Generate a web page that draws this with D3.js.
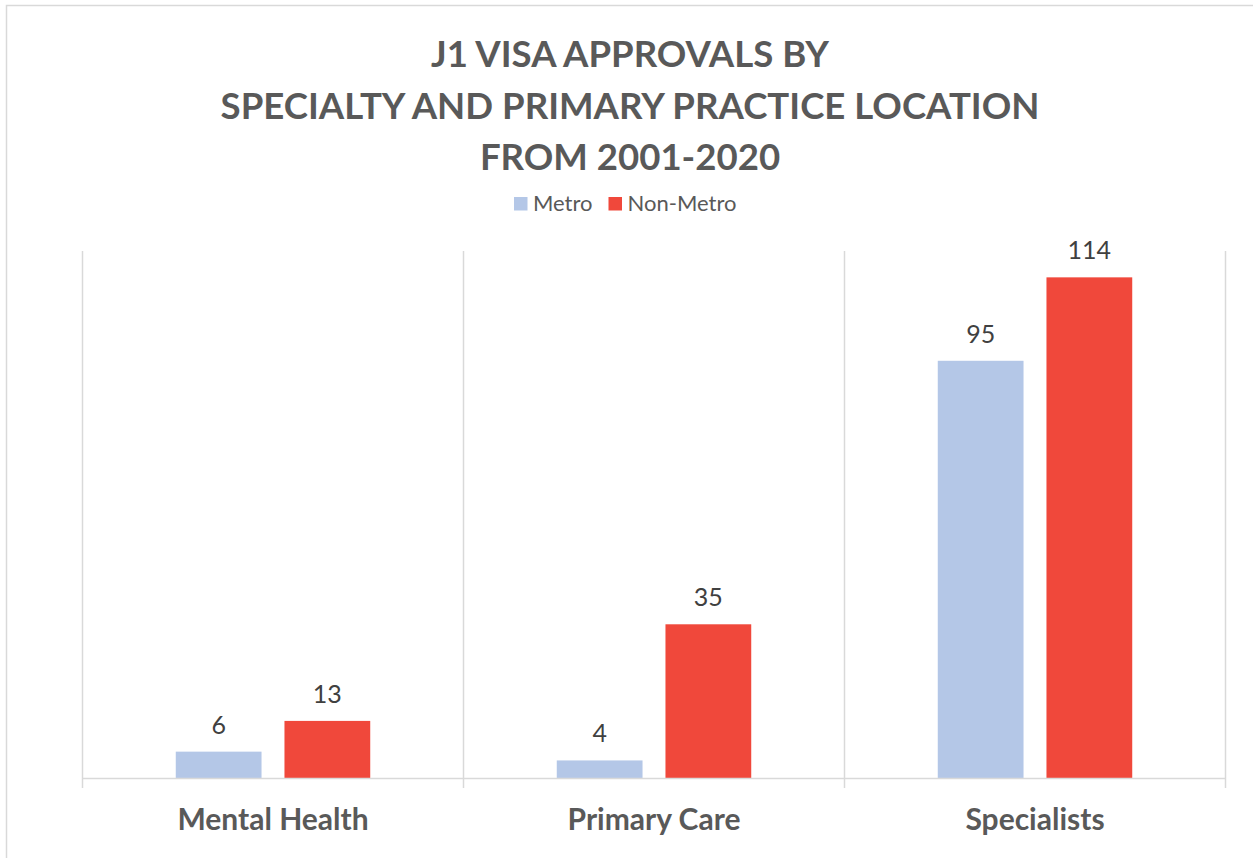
<!DOCTYPE html>
<html>
<head>
<meta charset="utf-8">
<script src="https://cdn.jsdelivr.net/npm/d3@7"></script>
<style>
  html, body { margin: 0; padding: 0; background: #fff; }
  svg { display: block; }
</style>
</head>
<body>
<svg id="chart" width="1253" height="858"></svg>
<script>
// J1 visa approvals, 2001-2020, by specialty and primary practice location
const categories = ["Mental Health", "Primary Care", "Specialists"];
const seriesNames = ["Metro", "Non-Metro"];
const metroValues = [6, 4, 95];
const nonMetroValues = [13, 35, 114];
const titleLines = ["J1 VISA APPROVALS BY", "SPECIALTY AND PRIMARY PRACTICE LOCATION", "FROM 2001-2020"];

const colors = { "Metro": "#B4C7E7", "Non-Metro": "#F0483B" };
const FONT = "Lato, 'Open Sans', 'Liberation Sans', sans-serif";

const rows = categories.map((c, i) => ({
  category: c,
  values: [
    { series: "Metro", value: metroValues[i] },
    { series: "Non-Metro", value: nonMetroValues[i] }
  ]
}));

const svg = d3.select("#chart");
const W = 1253, H = 858;

// outer chart frame
svg.append("rect")
  .attr("x", 6.5).attr("y", 5.5)
  .attr("width", W + 20).attr("height", H + 20)
  .attr("fill", "#fff")
  .attr("stroke", "#D9D9D9").attr("stroke-width", 1.5);

const plot = { left: 82.5, right: 1225.5, top: 251, bottom: 778 };

const x0 = d3.scaleBand()
  .domain(categories)
  .range([plot.left, plot.right])
  .paddingInner(0).paddingOuter(0);

const x1 = d3.scaleBand()
  .domain(seriesNames)
  .range([0, x0.bandwidth()])
  .paddingInner(0.211)
  .paddingOuter(0.858);

const y = d3.scaleLinear()
  .domain([0, 120])
  .range([plot.bottom, plot.top]);

// title
svg.append("g")
  .selectAll("text")
  .data(titleLines)
  .join("text")
  .attr("x", 630)
  .attr("y", (d, i) => 67 + i * 51.5)
  .attr("text-anchor", "middle")
  .attr("font-family", FONT)
  .attr("font-weight", 700)
  .attr("font-size", 36.6)
  .attr("fill", "#595959")
  .text(d => d);

// legend
const legendItems = [
  { name: "Metro", x: 514 },
  { name: "Non-Metro", x: 608.5 }
];
const legend = svg.append("g");
legendItems.forEach(item => {
  legend.append("rect")
    .attr("x", item.x).attr("y", 197)
    .attr("width", 13.5).attr("height", 13.5)
    .attr("fill", colors[item.name]);
  legend.append("text")
    .attr("x", item.x + 19).attr("y", 210.5)
    .attr("font-family", FONT)
    .attr("font-size", 22)
    .attr("fill", "#595959")
    .text(item.name);
});

// category separators (gridlines extending below the axis as tick marks)
const boundaries = categories.map(c => x0(c)).concat([x0(categories[categories.length - 1]) + x0.bandwidth()]);
svg.append("g")
  .selectAll("line")
  .data(boundaries)
  .join("line")
  .attr("x1", d => d).attr("x2", d => d)
  .attr("y1", plot.top).attr("y2", plot.bottom + 10)
  .attr("stroke", "#D9D9D9").attr("stroke-width", 1.5);

// bars
const groups = svg.append("g")
  .selectAll("g")
  .data(rows)
  .join("g")
  .attr("transform", d => `translate(${x0(d.category)},0)`);

groups.selectAll("rect")
  .data(d => d.values)
  .join("rect")
  .attr("x", d => x1(d.series))
  .attr("y", d => y(d.value))
  .attr("width", x1.bandwidth())
  .attr("height", d => y(0) - y(d.value))
  .attr("fill", d => colors[d.series]);

// data labels
groups.selectAll("text")
  .data(d => d.values)
  .join("text")
  .attr("x", d => x1(d.series) + x1.bandwidth() / 2)
  .attr("y", d => y(d.value) - 18)
  .attr("text-anchor", "middle")
  .attr("font-family", FONT)
  .attr("font-size", 25)
  .attr("fill", "#404040")
  .text(d => d.value);

// category axis
const xAxis = svg.append("g")
  .attr("transform", `translate(0,${plot.bottom})`)
  .call(d3.axisBottom(x0).tickSize(0).tickPadding(0));
xAxis.select(".domain")
  .attr("stroke", "#D9D9D9").attr("stroke-width", 1.5)
  .attr("d", `M${plot.left},0.5H${plot.right}`);
xAxis.selectAll(".tick text")
  .attr("y", 52)
  .attr("dy", 0)
  .attr("font-family", FONT)
  .attr("font-weight", 700)
  .attr("font-size", 30)
  .attr("fill", "#595959");
</script>
</body>
</html>
